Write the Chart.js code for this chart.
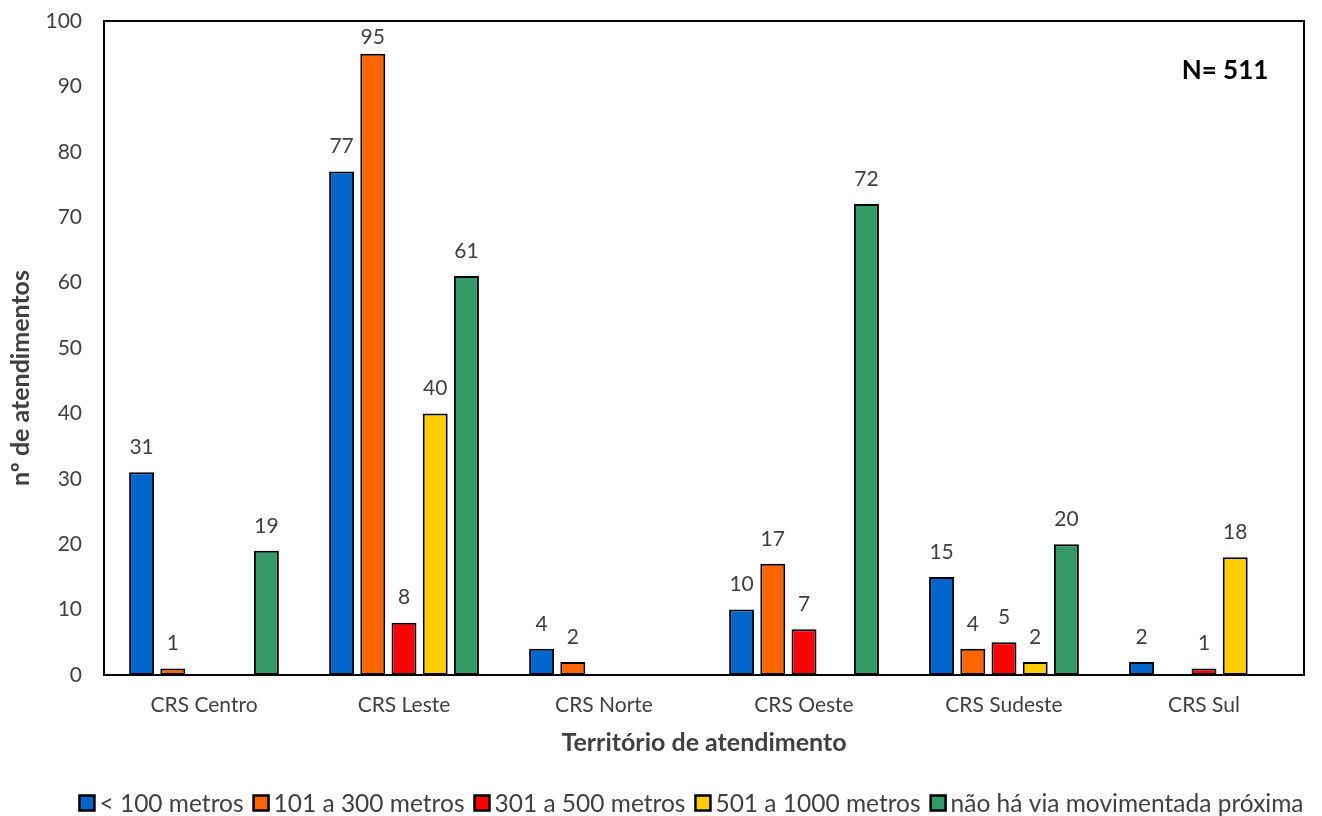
<!DOCTYPE html>
<html>
<head>
<meta charset="utf-8">
<script src="https://cdn.jsdelivr.net/npm/chart.js@4"></script>
<style>
  html, body { margin: 0; padding: 0; background: #fff; }
  #wrap { width: 1322px; height: 816px; }
</style>
</head>
<body>
<div id="wrap"><canvas id="c" width="1322" height="816"></canvas></div>
<script>
const categories = ['CRS Centro', 'CRS Leste', 'CRS Norte', 'CRS Oeste', 'CRS Sudeste', 'CRS Sul'];
const seriesNames = ['< 100 metros', '101 a 300 metros', '301 a 500 metros', '501 a 1000 metros', 'não há via movimentada próxima'];
const menos100 = [31, 77, 4, 10, 15, 2];
const de101a300 = [1, 95, 2, 17, 4, null];
const de301a500 = [null, 8, null, 7, 5, 1];
const de501a1000 = [null, 40, null, null, 2, 18];
const semVia = [19, 61, null, 72, 20, null];
const yTicks = [0, 10, 20, 30, 40, 50, 60, 70, 80, 90, 100];
const totalLabel = 'N= 511';
const yTitle = 'nº de atendimentos';

const colors = ['#0066CC', '#FF6600', '#FF0000', '#FFCC00', '#339966'];
const seriesData = [menos100, de101a300, de301a500, de501a1000, semVia];
const FONT = 'Lato, "DejaVu Sans", sans-serif';
const TEXT = '#404040';

const datasets = seriesData.map((d, i) => ({
  label: seriesNames[i],
  data: d,
  backgroundColor: colors[i],
  borderColor: '#000',
  borderWidth: 2,
  borderSkipped: false,
  categoryPercentage: 0.78,
  barPercentage: 0.8
}));

// Frame around the plot, value labels, axis title, total note and a compact legend
const extras = {
  id: 'extras',
  afterDatasetsDraw(chart) {
    const ctx = chart.ctx;
    const a = chart.chartArea;
    ctx.save();
    ctx.strokeStyle = '#000';
    ctx.lineWidth = 2;
    ctx.strokeRect(a.left, a.top, a.right - a.left, a.bottom - a.top);

    ctx.fillStyle = TEXT;
    ctx.font = '21px ' + FONT;
    ctx.textAlign = 'center';
    ctx.textBaseline = 'middle';
    chart.data.datasets.forEach((ds, i) => {
      const meta = chart.getDatasetMeta(i);
      meta.data.forEach((bar, j) => {
        const v = ds.data[j];
        if (v === null || v === undefined) return;
        // keep labels inside the plot frame
        const ly = Math.max(bar.y - 25, a.top + 16);
        ctx.fillText(String(v), bar.x, ly);
      });
    });

    // vertical axis title
    ctx.save();
    ctx.translate(21, 378);
    ctx.rotate(-Math.PI / 2);
    ctx.font = 'bold 25px ' + FONT;
    ctx.fillText(yTitle, 0, 0);
    ctx.restore();

    ctx.fillStyle = '#000';
    ctx.font = 'bold 26px ' + FONT;
    ctx.fillText(totalLabel, 1225, 71);

    // legend
    ctx.font = '24.5px ' + FONT;
    const box = 15, gap = 5, itemGap = 10;
    const widths = chart.data.datasets.map(ds => box + gap + ctx.measureText(ds.label).width);
    const total = widths.reduce((s, w) => s + w, 0) + itemGap * (widths.length - 1);
    let x = 691.5 - total / 2;
    const y = 803;
    ctx.textAlign = 'left';
    chart.data.datasets.forEach((ds, i) => {
      ctx.fillStyle = ds.backgroundColor;
      ctx.fillRect(x, y - box / 2, box, box);
      ctx.strokeStyle = '#000';
      ctx.lineWidth = 2.5;
      ctx.strokeRect(x, y - box / 2, box, box);
      ctx.fillStyle = TEXT;
      ctx.fillText(ds.label, x + box + gap, y + 1);
      x += widths[i] + itemGap;
    });
    ctx.restore();
  }
};

new Chart(document.getElementById('c'), {
  type: 'bar',
  data: { labels: categories, datasets },
  plugins: [extras],
  options: {
    responsive: false,
    animation: false,
    layout: { padding: { left: 0, right: 18, top: 21, bottom: 58 } },
    plugins: { legend: { display: false }, tooltip: { enabled: false } },
    scales: {
      x: {
        grid: { display: false, drawTicks: false },
        border: { display: false },
        ticks: { color: TEXT, font: { family: FONT, size: 21 }, padding: 18 },
        title: { display: true, text: 'Território de atendimento', color: TEXT, font: { family: FONT, size: 25, weight: 'bold' }, padding: { top: 0, bottom: 0 } },
        afterFit(s) { s.height = 83; s.paddingLeft = 0; s.paddingRight = 0; }
      },
      y: {
        min: 0, max: 100,
        grid: { display: false, drawTicks: false },
        border: { display: false },
        afterBuildTicks(s) { s.ticks = yTicks.map(v => ({ value: v })); },
        ticks: { color: TEXT, font: { family: FONT, size: 21 }, padding: 22 },
        afterFit(s) { s.width = 104; s.paddingTop = 0; s.paddingBottom = 0; }
      }
    }
  }
});
</script>
</body>
</html>
